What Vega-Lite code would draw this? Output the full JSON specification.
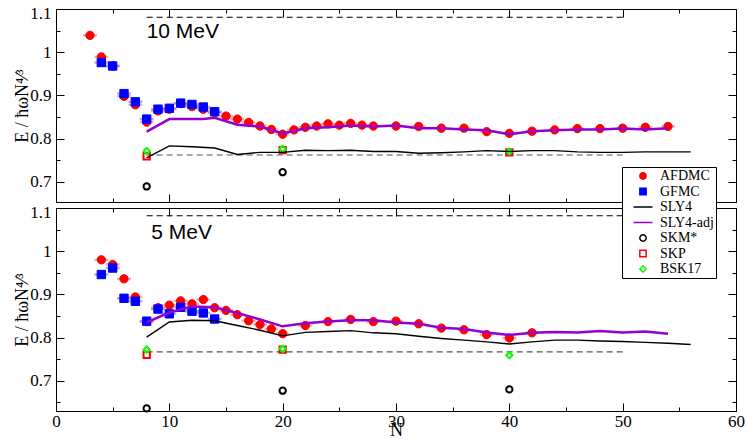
{
"$schema":"https://vega.github.io/schema/vega-lite/v6.json",
"background":"white",
"padding":{"left":13,"top":3,"right":1,"bottom":0},
"datasets":{
"pts":[
{"T":10,"s":"AFDMC","N":3,"E":1.039},{"T":10,"s":"AFDMC","N":4,"E":0.989},{"T":10,"s":"AFDMC","N":5,"E":0.968},{"T":10,"s":"AFDMC","N":6,"E":0.898},{"T":10,"s":"AFDMC","N":7,"E":0.878},{"T":10,"s":"AFDMC","N":8,"E":0.838},{"T":10,"s":"AFDMC","N":9,"E":0.864},{"T":10,"s":"AFDMC","N":10,"E":0.868},{"T":10,"s":"AFDMC","N":11,"E":0.881},{"T":10,"s":"AFDMC","N":12,"E":0.874},{"T":10,"s":"AFDMC","N":13,"E":0.868},{"T":10,"s":"AFDMC","N":14,"E":0.86},{"T":10,"s":"AFDMC","N":15,"E":0.852},{"T":10,"s":"AFDMC","N":16,"E":0.845},{"T":10,"s":"AFDMC","N":17,"E":0.837},{"T":10,"s":"AFDMC","N":18,"E":0.829},{"T":10,"s":"AFDMC","N":19,"E":0.821},{"T":10,"s":"AFDMC","N":20,"E":0.81},{"T":10,"s":"AFDMC","N":21,"E":0.82},{"T":10,"s":"AFDMC","N":22,"E":0.826},{"T":10,"s":"AFDMC","N":23,"E":0.829},{"T":10,"s":"AFDMC","N":24,"E":0.834},{"T":10,"s":"AFDMC","N":25,"E":0.831},{"T":10,"s":"AFDMC","N":26,"E":0.835},{"T":10,"s":"AFDMC","N":27,"E":0.831},{"T":10,"s":"AFDMC","N":28,"E":0.829},{"T":10,"s":"AFDMC","N":30,"E":0.829},{"T":10,"s":"AFDMC","N":32,"E":0.828},{"T":10,"s":"AFDMC","N":34,"E":0.824},{"T":10,"s":"AFDMC","N":36,"E":0.824},{"T":10,"s":"AFDMC","N":38,"E":0.816},{"T":10,"s":"AFDMC","N":40,"E":0.812},{"T":10,"s":"AFDMC","N":42,"E":0.817},{"T":10,"s":"AFDMC","N":44,"E":0.82},{"T":10,"s":"AFDMC","N":46,"E":0.823},{"T":10,"s":"AFDMC","N":48,"E":0.823},{"T":10,"s":"AFDMC","N":50,"E":0.824},{"T":10,"s":"AFDMC","N":52,"E":0.826},{"T":10,"s":"AFDMC","N":54,"E":0.828},
{"T":10,"s":"GFMC","N":4,"E":0.976},{"T":10,"s":"GFMC","N":5,"E":0.968},{"T":10,"s":"GFMC","N":6,"E":0.904},{"T":10,"s":"GFMC","N":7,"E":0.885},{"T":10,"s":"GFMC","N":8,"E":0.845},{"T":10,"s":"GFMC","N":9,"E":0.868},{"T":10,"s":"GFMC","N":10,"E":0.87},{"T":10,"s":"GFMC","N":11,"E":0.882},{"T":10,"s":"GFMC","N":12,"E":0.879},{"T":10,"s":"GFMC","N":13,"E":0.873},{"T":10,"s":"GFMC","N":14,"E":0.862},
{"T":10,"s":"SLY4","N":8,"E":0.755},{"T":10,"s":"SLY4","N":10,"E":0.783},{"T":10,"s":"SLY4","N":12,"E":0.781},{"T":10,"s":"SLY4","N":14,"E":0.778},{"T":10,"s":"SLY4","N":16,"E":0.763},{"T":10,"s":"SLY4","N":18,"E":0.768},{"T":10,"s":"SLY4","N":20,"E":0.768},{"T":10,"s":"SLY4","N":22,"E":0.773},{"T":10,"s":"SLY4","N":24,"E":0.772},{"T":10,"s":"SLY4","N":26,"E":0.773},{"T":10,"s":"SLY4","N":28,"E":0.77},{"T":10,"s":"SLY4","N":30,"E":0.77},{"T":10,"s":"SLY4","N":32,"E":0.766},{"T":10,"s":"SLY4","N":34,"E":0.767},{"T":10,"s":"SLY4","N":36,"E":0.769},{"T":10,"s":"SLY4","N":38,"E":0.772},{"T":10,"s":"SLY4","N":40,"E":0.77},{"T":10,"s":"SLY4","N":42,"E":0.772},{"T":10,"s":"SLY4","N":44,"E":0.772},{"T":10,"s":"SLY4","N":46,"E":0.769},{"T":10,"s":"SLY4","N":48,"E":0.768},{"T":10,"s":"SLY4","N":50,"E":0.768},{"T":10,"s":"SLY4","N":52,"E":0.769},{"T":10,"s":"SLY4","N":54,"E":0.769},{"T":10,"s":"SLY4","N":56,"E":0.769},
{"T":10,"s":"SLY4-adj","N":8,"E":0.816},{"T":10,"s":"SLY4-adj","N":10,"E":0.845},{"T":10,"s":"SLY4-adj","N":13,"E":0.845},{"T":10,"s":"SLY4-adj","N":14,"E":0.848},{"T":10,"s":"SLY4-adj","N":16,"E":0.832},{"T":10,"s":"SLY4-adj","N":18,"E":0.828},{"T":10,"s":"SLY4-adj","N":20,"E":0.812},{"T":10,"s":"SLY4-adj","N":22,"E":0.824},{"T":10,"s":"SLY4-adj","N":24,"E":0.826},{"T":10,"s":"SLY4-adj","N":26,"E":0.83},{"T":10,"s":"SLY4-adj","N":28,"E":0.828},{"T":10,"s":"SLY4-adj","N":30,"E":0.83},{"T":10,"s":"SLY4-adj","N":32,"E":0.824},{"T":10,"s":"SLY4-adj","N":34,"E":0.824},{"T":10,"s":"SLY4-adj","N":36,"E":0.821},{"T":10,"s":"SLY4-adj","N":38,"E":0.819},{"T":10,"s":"SLY4-adj","N":40,"E":0.81},{"T":10,"s":"SLY4-adj","N":42,"E":0.817},{"T":10,"s":"SLY4-adj","N":44,"E":0.819},{"T":10,"s":"SLY4-adj","N":46,"E":0.821},{"T":10,"s":"SLY4-adj","N":48,"E":0.821},{"T":10,"s":"SLY4-adj","N":50,"E":0.823},{"T":10,"s":"SLY4-adj","N":52,"E":0.821},{"T":10,"s":"SLY4-adj","N":54,"E":0.824},
{"T":10,"s":"SKM*","N":8,"E":0.689},{"T":10,"s":"SKM*","N":20,"E":0.722},
{"T":10,"s":"SKP","N":8,"E":0.759},{"T":10,"s":"SKP","N":20,"E":0.773},{"T":10,"s":"SKP","N":40,"E":0.768},
{"T":10,"s":"BSK17","N":8,"E":0.771},{"T":10,"s":"BSK17","N":20,"E":0.776},{"T":10,"s":"BSK17","N":40,"E":0.77},
{"T":5,"s":"AFDMC","N":4,"E":0.98},{"T":5,"s":"AFDMC","N":5,"E":0.969},{"T":5,"s":"AFDMC","N":6,"E":0.936},{"T":5,"s":"AFDMC","N":7,"E":0.894},{"T":5,"s":"AFDMC","N":8,"E":0.837},{"T":5,"s":"AFDMC","N":9,"E":0.869},{"T":5,"s":"AFDMC","N":10,"E":0.875},{"T":5,"s":"AFDMC","N":11,"E":0.885},{"T":5,"s":"AFDMC","N":12,"E":0.878},{"T":5,"s":"AFDMC","N":13,"E":0.888},{"T":5,"s":"AFDMC","N":14,"E":0.869},{"T":5,"s":"AFDMC","N":15,"E":0.863},{"T":5,"s":"AFDMC","N":16,"E":0.853},{"T":5,"s":"AFDMC","N":17,"E":0.839},{"T":5,"s":"AFDMC","N":18,"E":0.83},{"T":5,"s":"AFDMC","N":19,"E":0.82},{"T":5,"s":"AFDMC","N":20,"E":0.809},{"T":5,"s":"AFDMC","N":22,"E":0.828},{"T":5,"s":"AFDMC","N":24,"E":0.837},{"T":5,"s":"AFDMC","N":26,"E":0.842},{"T":5,"s":"AFDMC","N":28,"E":0.837},{"T":5,"s":"AFDMC","N":30,"E":0.838},{"T":5,"s":"AFDMC","N":32,"E":0.832},{"T":5,"s":"AFDMC","N":34,"E":0.822},{"T":5,"s":"AFDMC","N":36,"E":0.818},{"T":5,"s":"AFDMC","N":38,"E":0.807},{"T":5,"s":"AFDMC","N":40,"E":0.799},{"T":5,"s":"AFDMC","N":42,"E":0.811},
{"T":5,"s":"GFMC","N":4,"E":0.946},{"T":5,"s":"GFMC","N":5,"E":0.961},{"T":5,"s":"GFMC","N":6,"E":0.891},{"T":5,"s":"GFMC","N":7,"E":0.884},{"T":5,"s":"GFMC","N":8,"E":0.838},{"T":5,"s":"GFMC","N":9,"E":0.866},{"T":5,"s":"GFMC","N":10,"E":0.855},{"T":5,"s":"GFMC","N":11,"E":0.87},{"T":5,"s":"GFMC","N":12,"E":0.861},{"T":5,"s":"GFMC","N":13,"E":0.857},{"T":5,"s":"GFMC","N":14,"E":0.843},
{"T":5,"s":"SLY4","N":8,"E":0.801},{"T":5,"s":"SLY4","N":10,"E":0.836},{"T":5,"s":"SLY4","N":12,"E":0.84},{"T":5,"s":"SLY4","N":14,"E":0.839},{"T":5,"s":"SLY4","N":16,"E":0.828},{"T":5,"s":"SLY4","N":18,"E":0.817},{"T":5,"s":"SLY4","N":20,"E":0.804},{"T":5,"s":"SLY4","N":22,"E":0.812},{"T":5,"s":"SLY4","N":24,"E":0.814},{"T":5,"s":"SLY4","N":26,"E":0.816},{"T":5,"s":"SLY4","N":28,"E":0.811},{"T":5,"s":"SLY4","N":30,"E":0.809},{"T":5,"s":"SLY4","N":32,"E":0.803},{"T":5,"s":"SLY4","N":34,"E":0.798},{"T":5,"s":"SLY4","N":36,"E":0.794},{"T":5,"s":"SLY4","N":38,"E":0.79},{"T":5,"s":"SLY4","N":40,"E":0.785},{"T":5,"s":"SLY4","N":42,"E":0.79},{"T":5,"s":"SLY4","N":44,"E":0.794},{"T":5,"s":"SLY4","N":46,"E":0.794},{"T":5,"s":"SLY4","N":48,"E":0.792},{"T":5,"s":"SLY4","N":50,"E":0.791},{"T":5,"s":"SLY4","N":52,"E":0.789},{"T":5,"s":"SLY4","N":54,"E":0.787},{"T":5,"s":"SLY4","N":56,"E":0.784},
{"T":5,"s":"SLY4-adj","N":8,"E":0.835},{"T":5,"s":"SLY4-adj","N":10,"E":0.858},{"T":5,"s":"SLY4-adj","N":12,"E":0.872},{"T":5,"s":"SLY4-adj","N":14,"E":0.87},{"T":5,"s":"SLY4-adj","N":16,"E":0.857},{"T":5,"s":"SLY4-adj","N":18,"E":0.842},{"T":5,"s":"SLY4-adj","N":20,"E":0.826},{"T":5,"s":"SLY4-adj","N":22,"E":0.833},{"T":5,"s":"SLY4-adj","N":24,"E":0.837},{"T":5,"s":"SLY4-adj","N":26,"E":0.84},{"T":5,"s":"SLY4-adj","N":28,"E":0.84},{"T":5,"s":"SLY4-adj","N":30,"E":0.835},{"T":5,"s":"SLY4-adj","N":32,"E":0.832},{"T":5,"s":"SLY4-adj","N":34,"E":0.823},{"T":5,"s":"SLY4-adj","N":36,"E":0.82},{"T":5,"s":"SLY4-adj","N":38,"E":0.812},{"T":5,"s":"SLY4-adj","N":40,"E":0.806},{"T":5,"s":"SLY4-adj","N":42,"E":0.811},{"T":5,"s":"SLY4-adj","N":44,"E":0.813},{"T":5,"s":"SLY4-adj","N":46,"E":0.812},{"T":5,"s":"SLY4-adj","N":48,"E":0.815},{"T":5,"s":"SLY4-adj","N":50,"E":0.812},{"T":5,"s":"SLY4-adj","N":52,"E":0.814},{"T":5,"s":"SLY4-adj","N":54,"E":0.809},
{"T":5,"s":"SKM*","N":8,"E":0.636},{"T":5,"s":"SKM*","N":20,"E":0.677},{"T":5,"s":"SKM*","N":40,"E":0.68},
{"T":5,"s":"SKP","N":8,"E":0.76},{"T":5,"s":"SKP","N":20,"E":0.772},
{"T":5,"s":"BSK17","N":8,"E":0.772},{"T":5,"s":"BSK17","N":20,"E":0.774},{"T":5,"s":"BSK17","N":40,"E":0.759}
],
"dash":[
{"T":10,"g":"u","N":8,"E":1.081},{"T":10,"g":"u","N":50,"E":1.081},{"T":10,"g":"l","N":8,"E":0.762},{"T":10,"g":"l","N":50,"E":0.762},
{"T":5,"g":"u","N":8,"E":1.082},{"T":5,"g":"u","N":50,"E":1.082},{"T":5,"g":"l","N":8,"E":0.767},{"T":5,"g":"l","N":50,"E":0.767}
]
},
"vconcat":[
{
"width":680,"height":193,
"resolve":{"axis":{"x":"independent","y":"independent"}},
"layer":[
{"data":{"name":"dash"},"transform":[{"filter":"datum.T==10"}],
"mark":{"type":"line","strokeDash":[6,4],"strokeWidth":1.1},
"encoding":{
"x":{"field":"N","type":"quantitative","scale":{"domain":[0,60],"nice":false},"axis":{"orient":"bottom","values":[0,10,20,30,40,50,60],"labels":false,"ticks":false,"domain":false,"title":null}},
"y":{"field":"E","type":"quantitative","scale":{"domain":[0.653,1.1],"nice":false,"zero":false},"axis":{"orient":"left","values":[0.7,0.8,0.9,1,1.1],"format":"~g","labelFlush":true,"labelFlushOffset":4,"ticks":false,"tickSize":0,"domain":false,"labelPadding":5,"titlePadding":-2,"title":"E / ħωN⁴⁄³"}},
"detail":{"field":"g"},
"stroke":{"condition":{"test":"datum.g=='l'","value":"#555555"},"value":"black"}}},
{"data":{"name":"pts"},"transform":[{"filter":"datum.T==10 && (datum.s=='AFDMC' || datum.s=='GFMC')"}],
"mark":{"type":"tick","orient":"horizontal","size":14,"thickness":2.5,"opacity":0.55},
"encoding":{
"x":{"field":"N","type":"quantitative","axis":null},
"y":{"field":"E","type":"quantitative","axis":null},
"color":{"condition":{"test":"datum.s=='GFMC'","value":"#6a6aff"},"value":"#ff6a6a"}}},
{"data":{"name":"pts"},"transform":[{"filter":"datum.T==10 && (datum.s=='AFDMC' || datum.s=='GFMC')"}],
"mark":{"type":"point","size":70,"strokeWidth":1,"opacity":1},
"encoding":{
"x":{"field":"N","type":"quantitative","axis":{"orient":"top","values":[0,5,10,15,20,25,30,35,40,45,50,55,60],"labels":false,"title":null,"tickSize":{"condition":{"test":"datum.value % 10 === 0","value":-8},"value":-4}}},
"y":{"field":"E","type":"quantitative","axis":{"orient":"right","values":[0.7,0.75,0.8,0.85,0.9,0.95,1,1.05,1.1],"labels":false,"title":null,"tickSize":{"condition":{"test":"round(datum.value*100) % 10 === 0","value":-8},"value":-4}}},
"stroke":{"field":"s","type":"nominal","title":null,"scale":{"domain":["AFDMC","GFMC","SLY4","SLY4-adj","SKM*","SKP","BSK17"],"range":["#ff0000","#0000ff","#000000","#9400d3","#000000","#ff0000","#00ff00"]}},
"fill":{"field":"s","type":"nominal","title":null,"scale":{"domain":["AFDMC","GFMC","SLY4","SLY4-adj","SKM*","SKP","BSK17"],"range":["#ff0000","#0000ff","transparent","transparent","transparent","transparent","transparent"]}},
"shape":{"field":"s","type":"nominal","title":null,"scale":{"domain":["AFDMC","GFMC","SLY4","SLY4-adj","SKM*","SKP","BSK17"],"range":["circle","square","M-3,0H3","M-3,0H3","circle","square","diamond"]}}}},
{"data":{"name":"pts"},"transform":[{"filter":"datum.T==10 && (datum.s=='SKM*' || datum.s=='SKP' || datum.s=='BSK17')"}],
"mark":{"type":"point","size":40,"strokeWidth":2,"opacity":1},
"encoding":{
"x":{"field":"N","type":"quantitative","axis":{"orient":"bottom","values":[0,5,10,15,20,25,30,35,40,45,50,55,60],"labels":false,"title":null,"tickSize":{"condition":{"test":"datum.value % 10 === 0","value":-8},"value":-4}}},
"y":{"field":"E","type":"quantitative","axis":{"orient":"left","values":[0.7,0.75,0.8,0.85,0.9,0.95,1,1.05,1.1],"labels":false,"title":null,"tickSize":{"condition":{"test":"round(datum.value*100) % 10 === 0","value":-8},"value":-4}}},
"stroke":{"field":"s","type":"nominal","title":null},
"fill":{"field":"s","type":"nominal","title":null},
"shape":{"field":"s","type":"nominal","title":null}}},
{"data":{"name":"pts"},"transform":[{"filter":"datum.T==10 && datum.s=='SLY4'"}],
"mark":{"type":"line","strokeWidth":1.4},
"encoding":{
"x":{"field":"N","type":"quantitative","axis":null},
"y":{"field":"E","type":"quantitative","axis":null},
"stroke":{"field":"s","type":"nominal","title":null}}},
{"data":{"name":"pts"},"transform":[{"filter":"datum.T==10 && datum.s=='SLY4-adj'"}],
"mark":{"type":"line","strokeWidth":2.5},
"encoding":{
"x":{"field":"N","type":"quantitative","axis":null},
"y":{"field":"E","type":"quantitative","axis":null},
"stroke":{"field":"s","type":"nominal","title":null}}},
{"data":{"values":[{}]},
"mark":{"type":"text","align":"left","baseline":"alphabetic","font":"Liberation Sans","fontSize":21,"color":"black"},
"encoding":{"x":{"datum":8,"type":"quantitative","axis":null},"y":{"datum":1.033,"type":"quantitative","axis":null},"text":{"value":"10 MeV"}}}
]
},
{
"width":680,"height":203,
"resolve":{"axis":{"x":"independent","y":"independent"}},
"layer":[
{"data":{"name":"dash"},"transform":[{"filter":"datum.T==5"}],
"mark":{"type":"line","strokeDash":[6,4],"strokeWidth":1.1},
"encoding":{
"x":{"field":"N","type":"quantitative","scale":{"domain":[0,60],"nice":false},"axis":{"orient":"bottom","values":[0,10,20,30,40,50,60],"ticks":false,"tickSize":0,"domain":false,"labelPadding":2,"labelFlush":false,"title":"N","titlePadding":-8}},
"y":{"field":"E","type":"quantitative","scale":{"domain":[0.63,1.1],"nice":false,"zero":false},"axis":{"orient":"left","values":[0.7,0.8,0.9,1,1.1],"format":"~g","labelFlush":true,"labelFlushOffset":4,"ticks":false,"tickSize":0,"domain":false,"labelPadding":5,"titlePadding":-2,"title":"E / ħωN⁴⁄³"}},
"detail":{"field":"g"},
"stroke":{"condition":{"test":"datum.g=='l'","value":"#555555"},"value":"black"}}},
{"data":{"name":"pts"},"transform":[{"filter":"datum.T==5 && (datum.s=='AFDMC' || datum.s=='GFMC')"}],
"mark":{"type":"tick","orient":"horizontal","size":14,"thickness":2.5,"opacity":0.55},
"encoding":{
"x":{"field":"N","type":"quantitative","axis":null},
"y":{"field":"E","type":"quantitative","axis":null},
"color":{"condition":{"test":"datum.s=='GFMC'","value":"#6a6aff"},"value":"#ff6a6a"}}},
{"data":{"name":"pts"},"transform":[{"filter":"datum.T==5 && (datum.s=='AFDMC' || datum.s=='GFMC')"}],
"mark":{"type":"point","size":70,"strokeWidth":1,"opacity":1},
"encoding":{
"x":{"field":"N","type":"quantitative","axis":{"orient":"top","values":[0,5,10,15,20,25,30,35,40,45,50,55,60],"labels":false,"title":null,"tickSize":{"condition":{"test":"datum.value % 10 === 0","value":-8},"value":-4}}},
"y":{"field":"E","type":"quantitative","axis":{"orient":"right","values":[0.65,0.7,0.75,0.8,0.85,0.9,0.95,1,1.05,1.1],"labels":false,"title":null,"tickSize":{"condition":{"test":"round(datum.value*100) % 10 === 0","value":-8},"value":-4}}},
"stroke":{"field":"s","type":"nominal","title":null,"scale":{"domain":["AFDMC","GFMC","SLY4","SLY4-adj","SKM*","SKP","BSK17"],"range":["#ff0000","#0000ff","#000000","#9400d3","#000000","#ff0000","#00ff00"]}},
"fill":{"field":"s","type":"nominal","title":null,"scale":{"domain":["AFDMC","GFMC","SLY4","SLY4-adj","SKM*","SKP","BSK17"],"range":["#ff0000","#0000ff","transparent","transparent","transparent","transparent","transparent"]}},
"shape":{"field":"s","type":"nominal","title":null,"scale":{"domain":["AFDMC","GFMC","SLY4","SLY4-adj","SKM*","SKP","BSK17"],"range":["circle","square","M-3,0H3","M-3,0H3","circle","square","diamond"]}}}},
{"data":{"name":"pts"},"transform":[{"filter":"datum.T==5 && (datum.s=='SKM*' || datum.s=='SKP' || datum.s=='BSK17')"}],
"mark":{"type":"point","size":40,"strokeWidth":2,"opacity":1},
"encoding":{
"x":{"field":"N","type":"quantitative","axis":{"orient":"bottom","values":[0,5,10,15,20,25,30,35,40,45,50,55,60],"labels":false,"title":null,"tickSize":{"condition":{"test":"datum.value % 10 === 0","value":-8},"value":-4}}},
"y":{"field":"E","type":"quantitative","axis":{"orient":"left","values":[0.65,0.7,0.75,0.8,0.85,0.9,0.95,1,1.05,1.1],"labels":false,"title":null,"tickSize":{"condition":{"test":"round(datum.value*100) % 10 === 0","value":-8},"value":-4}}},
"stroke":{"field":"s","type":"nominal","title":null},
"fill":{"field":"s","type":"nominal","title":null},
"shape":{"field":"s","type":"nominal","title":null}}},
{"data":{"name":"pts"},"transform":[{"filter":"datum.T==5 && datum.s=='SLY4'"}],
"mark":{"type":"line","strokeWidth":1.4},
"encoding":{
"x":{"field":"N","type":"quantitative","axis":null},
"y":{"field":"E","type":"quantitative","axis":null},
"stroke":{"field":"s","type":"nominal","title":null}}},
{"data":{"name":"pts"},"transform":[{"filter":"datum.T==5 && datum.s=='SLY4-adj'"}],
"mark":{"type":"line","strokeWidth":2.5},
"encoding":{
"x":{"field":"N","type":"quantitative","axis":null},
"y":{"field":"E","type":"quantitative","axis":null},
"stroke":{"field":"s","type":"nominal","title":null}}},
{"data":{"values":[{}]},
"mark":{"type":"text","align":"left","baseline":"alphabetic","font":"Liberation Sans","fontSize":21,"color":"black"},
"encoding":{"x":{"datum":8.4,"type":"quantitative","axis":null},"y":{"datum":1.028,"type":"quantitative","axis":null},"text":{"value":"5 MeV"}}}
]
}
],
"spacing":6,
"bounds":"flush",
"resolve":{"scale":{"x":"independent","y":"independent","stroke":"shared","fill":"shared","shape":"shared"}},
"config":{
"view":{"stroke":"black","strokeWidth":1},
"font":"Liberation Serif",
"axis":{"grid":false,"domainColor":"black","tickColor":"black","labelColor":"black","titleColor":"black","labelFont":"Liberation Serif","titleFont":"Liberation Serif","labelFontSize":17,"titleFontSize":18,"titleFontWeight":"normal"},
"legend":{"orient":"none","legendX":566,"legendY":158,"strokeColor":"black","fillColor":"white","padding":2,"labelFont":"Liberation Serif","labelFontSize":14,"labelColor":"black","symbolSize":40,"symbolStrokeWidth":1.5,"rowPadding":1.5,"symbolOffset":12,"labelOffset":10}
}
}
